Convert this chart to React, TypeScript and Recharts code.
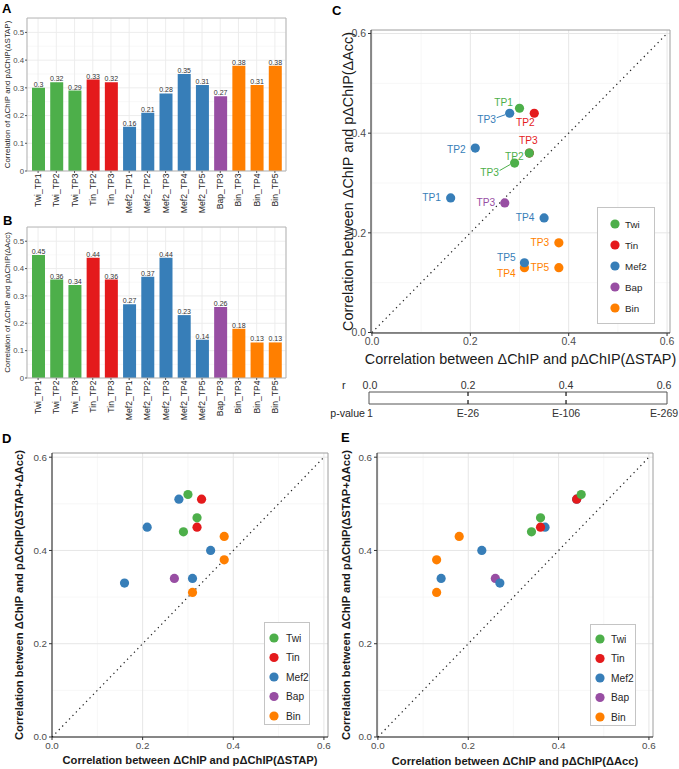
import React from 'react';
import {
  BarChart, Bar, XAxis, YAxis, CartesianGrid, LabelList, Cell,
  ScatterChart, Scatter, ReferenceLine, ReferenceArea, Legend,
} from 'recharts';

// ---------------- data ----------------
const categories = ['Twi_TP1', 'Twi_TP2', 'Twi_TP3', 'Tin_TP2', 'Tin_TP3', 'Mef2_TP1', 'Mef2_TP2', 'Mef2_TP3', 'Mef2_TP4', 'Mef2_TP5', 'Bap_TP3', 'Bin_TP3', 'Bin_TP4', 'Bin_TP5'];
const corrSTAP = [0.30, 0.32, 0.29, 0.33, 0.32, 0.16, 0.21, 0.28, 0.35, 0.31, 0.27, 0.38, 0.31, 0.38];
const corrAcc = [0.45, 0.36, 0.34, 0.44, 0.36, 0.27, 0.37, 0.44, 0.23, 0.14, 0.26, 0.18, 0.13, 0.13];
const corrSTAPAcc = [0.52, 0.47, 0.44, 0.51, 0.45, 0.33, 0.45, 0.51, 0.40, 0.34, 0.34, 0.43, 0.31, 0.38];
const factors = ['Twi', 'Tin', 'Mef2', 'Bap', 'Bin'];
const barTicks = [0, 0.1, 0.2, 0.3, 0.4, 0.5];
const barMinor = [0.05, 0.15, 0.25, 0.35, 0.45, 0.55];
const scatterTicks = [0, 0.2, 0.4, 0.6];
const scatterMinor = [0.1, 0.3, 0.5];
const rTicks = [0, 0.2, 0.4, 0.6];
const pValueLabels = ['1', 'E-26', 'E-106', 'E-269'];
const identitySegment = [{ x: 0, y: 0 }, { x: 0.6, y: 0.6 }];

// ---------------- styles ----------------
const FONT = "'Liberation Sans', Arial, Helvetica, sans-serif";
const COLORS: Record<string, string> = {
  Twi: '#4DAF4A', Tin: '#E41A1C', Mef2: '#377EB8', Bap: '#984EA3', Bin: '#FF7F00',
};
const BORDER = '#b5b5b5';
// label placement for panel C (offset from point, leader line flag)
const labelOffsets: Record<string, [number, number, boolean?]> = {
  Twi_TP1: [-16, -6], Twi_TP2: [-15, 3], Twi_TP3: [-25, 9, true],
  Tin_TP2: [-9, 9], Tin_TP3: [-1, -13],
  Mef2_TP1: [-19, 0], Mef2_TP2: [-19, 1], Mef2_TP3: [-23, 6, true], Mef2_TP4: [-19, 0], Mef2_TP5: [-18, -5],
  Bap_TP3: [-19, 0],
  Bin_TP3: [-19, 0], Bin_TP4: [-18, 6], Bin_TP5: [-19, 0],
};

type Pt = { name: string; x: number; y: number; factor: string; tp: string };
const buildPoints = (xs: number[], ys: number[]): Pt[] =>
  categories.map((c, i) => ({ name: c, x: xs[i], y: ys[i], factor: c.split('_')[0], tp: c.split('_')[1] }));

// ---------------- bar panels ----------------
const RotTick = (p: any) => {
  const { x, y, payload } = p;
  return (
    <text x={x} y={y} dx={1.5} transform={`rotate(-90, ${x}, ${y})`} textAnchor="end"
      dominantBaseline="central" fontSize={8.6} fill="#262626" fontFamily={FONT}>
      {payload.value}
    </text>
  );
};

const BAR_MAX = 0.552;

function BarPanel({ values, title, top, height }: { values: number[]; title: string; top: number; height: number }) {
  const data = categories.map((c, i) => ({ name: c, value: values[i], factor: c.split('_')[0] }));
  return (
    <div style={{ position: 'absolute', left: 0, top, width: 290, height }}>
      <BarChart width={290} height={height} data={data} margin={{ top: 18, right: 3, left: 0, bottom: 0 }}>
        <CartesianGrid horizontalValues={barMinor} vertical={false} stroke="#f4f4f4" strokeWidth={0.6} />
        <CartesianGrid horizontalValues={barTicks} stroke="#ebebeb" strokeWidth={0.9} />
        <XAxis dataKey="name" interval={0} height={44} padding={{ left: 2, right: 2 }}
          tickSize={2} tickMargin={2} tickLine={{ stroke: '#555' }} axisLine={{ stroke: BORDER }} tick={<RotTick />} />
        <YAxis type="number" domain={[0, BAR_MAX]} allowDataOverflow ticks={barTicks} width={27}
          tickFormatter={(v: number) => (v === 0 ? '0' : v.toFixed(1))}
          tick={{ fontSize: 7.8, fill: '#4d4d4d', fontFamily: FONT }} tickSize={2} tickMargin={1}
          tickLine={{ stroke: '#555' }} axisLine={{ stroke: BORDER }}
          label={(p: any) => {
            const vb = p.viewBox || {};
            const cx = (vb.x ?? 0) + 7;
            const cy = (vb.y ?? 0) + (vb.height ?? 0) / 2;
            return (
              <text x={cx} y={cy} transform={`rotate(-90, ${cx}, ${cy})`} textAnchor="middle"
                dominantBaseline="central" fontSize={7.9} fill="#262626" fontFamily={FONT}>{title}</text>
            );
          }} />
        <YAxis yAxisId="border" orientation="right" width={1} domain={[0, 1]} tick={false} tickLine={false}
          axisLine={{ stroke: BORDER }} />
        <ReferenceLine y={BAR_MAX} stroke={BORDER} strokeWidth={1} ifOverflow="visible" />
        <Bar dataKey="value" barSize={13} isAnimationActive={false}>
          {data.map((d) => <Cell key={d.name} fill={COLORS[d.factor]} />)}
          <LabelList dataKey="value" position="top" offset={1} fontSize={7} fill="#333" fontFamily={FONT}
            formatter={(v: any) => String(v)} />
        </Bar>
      </BarChart>
    </div>
  );
}

// ---------------- scatter panels ----------------
type LegendCfg = { left: number; top: number; w: number; h: number; first: number; step: number; cx: number; tx: number; fs: number };

const LegendBox = ({ cfg }: { cfg: LegendCfg }) => (
  <svg width={cfg.w} height={cfg.h} style={{ display: 'block' }}>
    <rect x={0.5} y={0.5} width={cfg.w - 1} height={cfg.h - 1} fill="#fff" stroke="#c4c4c4" />
    {factors.map((f, i) => (
      <g key={f}>
        <circle cx={cfg.cx} cy={cfg.first + i * cfg.step} r={4.6} fill={COLORS[f]} />
        <text x={cfg.tx} y={cfg.first + i * cfg.step} dominantBaseline="central" fontSize={cfg.fs}
          fill="#262626" fontFamily={FONT}>{f}</text>
      </g>
    ))}
  </svg>
);

const Dot = (p: any) => <circle cx={p.cx} cy={p.cy} r={4.6} fill={COLORS[p.payload.factor]} />;

const PointLabel = (p: any) => {
  const off = labelOffsets[p.payload.name];
  if (!off) return <g />;
  const color = COLORS[p.payload.factor];
  const lx = p.cx + off[0];
  const ly = p.cy + off[1];
  return (
    <g>
      {off[2] ? <line x1={lx + 10} y1={ly - 1.5} x2={p.cx - 4.5} y2={p.cy + 1.5} stroke={color} strokeWidth={1} /> : null}
      <text x={lx} y={ly} textAnchor="middle" dominantBaseline="central" fontSize={10.2} fill={color} fontFamily={FONT}>
        {p.payload.tp}
      </text>
    </g>
  );
};

type ScatterProps = {
  left: number; top: number; width: number; height: number;
  margin: { top: number; right: number; left: number; bottom: number };
  yAxisWidth: number; xAxisHeight: number;
  xDomain: [number, number]; yDomain: [number, number];
  xs: number[]; ys: number[];
  xTitle: string; yTitle: string; bold: boolean; titleSize: number; xTitleDy: number; yTitleX: number;
  tickSize: number; legend: LegendCfg; labels?: boolean;
};

function ScatterPanel(s: ScatterProps) {
  const pts = buildPoints(s.xs, s.ys);
  const drawOrder = [...factors].reverse();
  const titleWeight = s.bold ? 'bold' : 'normal';
  return (
    <div style={{ position: 'absolute', left: s.left, top: s.top, width: s.width, height: s.height }}>
      <ScatterChart width={s.width} height={s.height} margin={s.margin}>
        <CartesianGrid horizontalValues={scatterMinor} verticalValues={scatterMinor} stroke="#f2f2f2" strokeWidth={0.6} />
        <CartesianGrid horizontalValues={scatterTicks} verticalValues={scatterTicks} stroke="#e6e6e6" strokeWidth={1} />
        <XAxis type="number" dataKey="x" domain={s.xDomain} allowDataOverflow ticks={scatterTicks}
          tickFormatter={(v: number) => v.toFixed(1)} height={s.xAxisHeight}
          tick={{ fontSize: s.tickSize, fill: '#4d4d4d', fontFamily: FONT }} tickSize={3} tickMargin={2}
          tickLine={{ stroke: '#333' }} axisLine={{ stroke: '#1a1a1a' }}
          label={(p: any) => {
            const vb = p.viewBox || {};
            return (
              <text x={(vb.x ?? 0) + (vb.width ?? 0) / 2} y={(vb.y ?? 0) + s.xTitleDy} textAnchor="middle"
                dominantBaseline="central" fontSize={s.titleSize} fontWeight={titleWeight} fill="#1a1a1a" fontFamily={FONT}>
                {s.xTitle}
              </text>
            );
          }} />
        <YAxis type="number" dataKey="y" domain={s.yDomain} allowDataOverflow ticks={scatterTicks}
          tickFormatter={(v: number) => v.toFixed(1)} width={s.yAxisWidth}
          tick={{ fontSize: s.tickSize, fill: '#4d4d4d', fontFamily: FONT }} tickSize={3} tickMargin={2}
          tickLine={{ stroke: '#333' }} axisLine={{ stroke: '#1a1a1a' }}
          label={(p: any) => {
            const vb = p.viewBox || {};
            const cx = s.yTitleX;
            const cy = (vb.y ?? 0) + (vb.height ?? 0) / 2;
            return (
              <text x={cx} y={cy} transform={`rotate(-90, ${cx}, ${cy})`} textAnchor="middle"
                dominantBaseline="central" fontSize={s.titleSize} fontWeight={titleWeight} fill="#1a1a1a" fontFamily={FONT}>
                {s.yTitle}
              </text>
            );
          }} />
        <ReferenceLine y={s.yDomain[1]} stroke="#9e9e9e" strokeWidth={1} ifOverflow="visible" />
        <ReferenceLine x={s.xDomain[1]} stroke="#9e9e9e" strokeWidth={1} ifOverflow="visible" />
        {drawOrder.map((f) => (
          <Scatter key={f} name={f} data={pts.filter((p) => p.factor === f)} fill={COLORS[f]}
            isAnimationActive={false} shape={Dot} />
        ))}
        {s.labels ? <Scatter name="labels" data={pts} isAnimationActive={false} shape={PointLabel} legendType="none" /> : null}
        <ReferenceLine segment={identitySegment} stroke="#222" strokeWidth={1.2} strokeDasharray="1.3 3.6" ifOverflow="visible" />
        <Legend layout="vertical" align="center" verticalAlign="middle"
          wrapperStyle={{ left: s.legend.left, top: s.legend.top, width: s.legend.w, height: s.legend.h, bottom: 'auto', right: 'auto', margin: 0, padding: 0 }}
          content={() => <LegendBox cfg={s.legend} />} />
      </ScatterChart>
    </div>
  );
}

// ---------------- r / p-value scale ----------------
const R_DOMAIN: [number, number] = [-0.002, 0.606];

function RScale() {
  const rData = rTicks.map((r) => ({ x: r, y: 0.5 }));
  const inner = rTicks.slice(1, -1);
  const Empty = () => <g />;
  return (
    <div style={{ position: 'absolute', left: 320, top: 375, width: 359, height: 50 }}>
      <ScatterChart width={359} height={50} margin={{ top: 0, right: 12, left: 49, bottom: 0 }}>
        <XAxis xAxisId="r" orientation="top" type="number" dataKey="x" domain={R_DOMAIN} allowDataOverflow
          ticks={rTicks} height={17} tickSize={0} tickMargin={0} tickLine={false} axisLine={false}
          tick={(p: any) => (
            <text x={p.x} y={p.y - 7} textAnchor="middle" dominantBaseline="central" fontSize={10.6} fill="#333" fontFamily={FONT}>
              {Number(p.payload.value).toFixed(1)}
            </text>
          )} />
        <XAxis xAxisId="p" orientation="bottom" type="number" dataKey="x" domain={R_DOMAIN} allowDataOverflow
          ticks={rTicks} height={21} tickSize={0} tickMargin={0} tickLine={false} axisLine={false}
          tick={(p: any) => (
            <text x={p.x} y={p.y + 9} textAnchor="middle" dominantBaseline="central" fontSize={10.6} fill="#333" fontFamily={FONT}>
              {pValueLabels[rTicks.indexOf(p.payload.value)]}
            </text>
          )}
          label={(p: any) => {
            const vb = p.viewBox || {};
            return (
              <g fontFamily={FONT} fill="#262626">
                <text x={(vb.x ?? 0) - 27} y={(vb.y ?? 0) - 19} dominantBaseline="central" fontSize={11}>r</text>
                <text x={(vb.x ?? 0) - 4} y={(vb.y ?? 0) + 9} textAnchor="end" dominantBaseline="central" fontSize={10.6}>p-value</text>
              </g>
            );
          }} />
        <YAxis type="number" dataKey="y" domain={[0, 1]} hide />
        <ReferenceArea xAxisId="r" x1={R_DOMAIN[0]} x2={R_DOMAIN[1]} y1={0} y2={1} fill="none"
          stroke="#555" strokeWidth={1} ifOverflow="visible" />
        {inner.map((v) => (
          <ReferenceLine key={`t${v}`} xAxisId="r" segment={[{ x: v, y: 0 }, { x: v, y: 1 }]} stroke="#222"
            strokeWidth={1.3} strokeDasharray="4 4 4" ifOverflow="visible" />
        ))}
        <Scatter xAxisId="r" data={rData} isAnimationActive={false} shape={Empty} />
        <Scatter xAxisId="p" data={rData} isAnimationActive={false} shape={Empty} />
      </ScatterChart>
    </div>
  );
}

// ---------------- app ----------------
export default function App() {
  return (
    <div style={{ position: 'absolute', left: 0, top: 0, width: 679, height: 769, background: '#fff', fontFamily: FONT, overflow: 'hidden' }}>
      <BarPanel values={corrSTAP} title="Correlation of ΔChIP and pΔChIP(ΔSTAP)" top={0} height={215} />
      <BarPanel values={corrAcc} title="Correlation of ΔChIP and pΔChIP(ΔAcc)" top={209} height={213} />
      <ScatterPanel
        left={340} top={0} width={339} height={375}
        margin={{ top: 30, right: 9, left: 0, bottom: 0 }} yAxisWidth={31} xAxisHeight={42}
        xDomain={[-0.002, 0.606]} yDomain={[-0.001, 0.607]}
        xs={corrSTAP} ys={corrAcc}
        xTitle="Correlation between ΔChIP and pΔChIP(ΔSTAP)" yTitle="Correlation between ΔChIP and pΔChIP(ΔAcc)"
        bold={false} titleSize={14.4} xTitleDy={26} yTitleX={8} tickSize={10.5}
        legend={{ left: 257, top: 207, w: 58, h: 117, first: 17, step: 21, cx: 18, tx: 28, fs: 9.8 }}
        labels
      />
      <RScale />
      <ScatterPanel
        left={0} top={420} width={340} height={349}
        margin={{ top: 33, right: 12, left: 0, bottom: 0 }} yAxisWidth={52} xAxisHeight={32}
        xDomain={[0, 0.609]} yDomain={[0, 0.609]}
        xs={corrSTAP} ys={corrSTAPAcc}
        xTitle="Correlation between ΔChIP and pΔChIP(ΔSTAP)" yTitle="Correlation between ΔChIP and pΔChIP(ΔSTAP+ΔAcc)"
        bold titleSize={11.2} xTitleDy={23} yTitleX={19} tickSize={9.8}
        legend={{ left: 264, top: 202, w: 46, h: 103, first: 16, step: 19.5, cx: 10, tx: 22, fs: 10.2 }}
      />
      <ScatterPanel
        left={340} top={420} width={339} height={349}
        margin={{ top: 33, right: 26, left: 0, bottom: 0 }} yAxisWidth={37} xAxisHeight={32}
        xDomain={[-0.002, 0.609]} yDomain={[0, 0.609]}
        xs={corrAcc} ys={corrSTAPAcc}
        xTitle="Correlation between ΔChIP and pΔChIP(ΔAcc)" yTitle="Correlation between ΔChIP and pΔChIP(ΔSTAP+ΔAcc)"
        bold titleSize={11.2} xTitleDy={24} yTitleX={6} tickSize={9.8}
        legend={{ left: 250, top: 204, w: 46, h: 102, first: 15, step: 19.5, cx: 10, tx: 21, fs: 10.2 }}
      />
      <svg width={679} height={769} style={{ position: 'absolute', left: 0, top: 0, pointerEvents: 'none' }}>
        <g fontFamily={FONT} fontWeight="bold" fontSize={13} fill="#000">
          <text x={2} y={13}>A</text>
          <text x={3} y={225}>B</text>
          <text x={332} y={15}>C</text>
          <text x={2} y={443}>D</text>
          <text x={341} y={442}>E</text>
        </g>
      </svg>
    </div>
  );
}
